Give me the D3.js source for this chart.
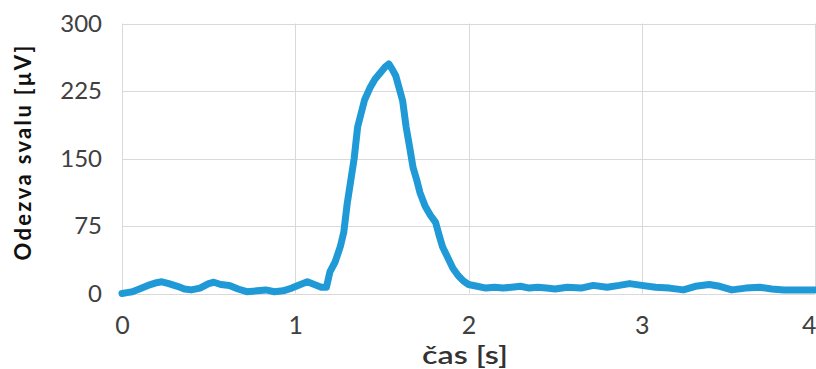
<!DOCTYPE html>
<html>
<head>
<meta charset="utf-8">
<script src="https://cdn.jsdelivr.net/npm/d3@7"></script>
<style>
  html, body { margin: 0; padding: 0; background: #fff; }
  svg { display: block; }
</style>
</head>
<body>
<svg id="chart" width="816" height="369"></svg>
<script>
// Muscle response (EMG) over time
const timeS = [
  0.00, 0.03, 0.06, 0.10, 0.15, 0.20, 0.23, 0.27, 0.32, 0.36, 0.40, 0.45, 0.50, 0.53, 0.57,
  0.62, 0.67, 0.72, 0.78, 0.83, 0.88, 0.93, 0.98, 1.03, 1.07, 1.11, 1.15, 1.18, 1.20, 1.23,
  1.26, 1.28, 1.30, 1.32, 1.34, 1.36, 1.38, 1.40, 1.43, 1.46, 1.49, 1.52, 1.54, 1.56, 1.58,
  1.60, 1.62, 1.64, 1.66, 1.68, 1.70, 1.72, 1.75, 1.78, 1.81, 1.83, 1.85, 1.88, 1.91, 1.94,
  1.97, 2.00, 2.05, 2.10, 2.15, 2.20, 2.25, 2.30, 2.35, 2.40, 2.45, 2.50, 2.57, 2.65, 2.72,
  2.80, 2.87, 2.93, 3.00, 3.08, 3.16, 3.24, 3.31, 3.39, 3.45, 3.52, 3.60, 3.68, 3.75, 3.82,
  3.90, 4.00
];
const responseUV = [
  0, 1, 2, 5, 9, 12, 13, 11, 8, 5, 4, 6, 11, 12.5, 10,
  9, 5, 2, 3, 4, 2, 3, 6, 10, 13, 10, 7, 7, 24, 35,
  52, 68, 100, 125, 150, 185, 200, 215, 228, 238, 245, 252, 255, 249, 242,
  228, 214, 185, 163, 140, 127, 112, 97, 87, 79, 65, 52, 40, 28, 20,
  14, 10, 8, 6, 7, 6, 7, 8, 6, 7, 6, 5, 7, 6, 9,
  7, 9, 11, 9, 7, 6, 4, 8, 10, 8, 4, 6, 7, 5, 4,
  4, 4
];
const xTicks = [0, 1, 2, 3, 4];
const yTicks = [0, 75, 150, 225, 300];
const xTitle = "čas [s]";
const yTitle = "Odezva svalu [μV]";

const svg = d3.select("#chart");
const font = "Lato, 'Open Sans', sans-serif";

const x = d3.scaleLinear().domain([0, 4]).range([122, 815]);
const y = d3.scaleLinear().domain([0, 300]).range([293.5, 23.5]);

// gridlines
const grid = svg.append("g").attr("stroke", "#d9d9d9").attr("stroke-width", 1);
grid.selectAll("line.h").data(yTicks).join("line")
  .attr("x1", x(0)).attr("x2", x(4))
  .attr("y1", d => Math.round(y(d)) + 0.5).attr("y2", d => Math.round(y(d)) + 0.5);
grid.selectAll("line.v").data(xTicks).join("line")
  .attr("y1", y(300)).attr("y2", y(0))
  .attr("x1", d => Math.round(x(d)) + 0.5).attr("x2", d => Math.round(x(d)) + 0.5);

// axes (labels only)
const yAxis = d3.axisLeft(y).tickValues(yTicks).tickSize(0).tickPadding(20).tickFormat(d3.format("d"));
svg.append("g").attr("transform", `translate(${x(0)},0)`).call(yAxis)
  .call(g => g.select(".domain").remove())
  .call(g => g.selectAll("text").attr("font-family", font).attr("font-size", 24).attr("fill", "#404040"));

const xAxis = d3.axisBottom(x).tickValues(xTicks).tickSize(0).tickPadding(23).tickFormat(d3.format("d"));
svg.append("g").attr("transform", `translate(0,${y(0)})`).call(xAxis)
  .call(g => g.select(".domain").remove())
  .call(g => g.selectAll("text").attr("font-family", font).attr("font-size", 25).attr("fill", "#404040"))
  // the last label sits at the right edge, so keep it inside the frame
  .call(g => g.selectAll(".tick").filter(d => d === 4).select("text").attr("text-anchor", "end").attr("dx", 1));

// titles
svg.append("text").attr("x", 465).attr("y", 364).attr("text-anchor", "middle")
  .attr("font-family", font).attr("font-size", 25).attr("font-weight", 600).attr("fill", "#333")
  .attr("textLength", 86).attr("lengthAdjust", "spacingAndGlyphs")
  .text(xTitle);
svg.append("text").attr("transform", "translate(31,153) rotate(-90)").attr("text-anchor", "middle")
  .attr("font-family", font).attr("font-size", 22).attr("font-weight", "bold").attr("fill", "#111")
  .attr("textLength", 215).attr("lengthAdjust", "spacing")
  .text(yTitle);

// signal line
const data = timeS.map((t, i) => [t, responseUV[i]]);
svg.append("path").datum(data)
  .attr("fill", "none").attr("stroke", "#1f9ad6").attr("stroke-width", 7)
  .attr("stroke-linejoin", "round").attr("stroke-linecap", "round")
  .attr("d", d3.line().x(d => x(d[0])).y(d => y(d[1])));
</script>
</body>
</html>
